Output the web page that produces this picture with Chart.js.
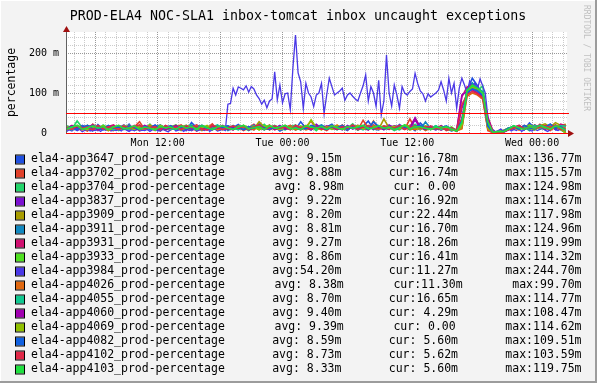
<!DOCTYPE html>
<html>
<head>
<meta charset="utf-8">
<script src="https://cdn.jsdelivr.net/npm/chart.js@4"></script>
<style>
  html, body { margin: 0; padding: 0; background: #f3f3f3; }
  canvas { display: block; }
</style>
</head>
<body>
<canvas id="chart" width="597" height="383"></canvas>
<script>
const chartTitle = "PROD-ELA4 NOC-SLA1 inbox-tomcat inbox uncaught exceptions";
const yTitle = "percentage";
const credit = "RRDTOOL / TOBI OETIKER";

// time axis in hours since Mon 00:00
const startHour = 3.25;
const stepHours = 0.5;      // most hosts: one sample per 30 min
const blueStepHours = 0.25; // app3984 read at a finer step
const xMin = 3.18;
const xMax = 51.36;
const yMax = 252.5;
const xTickHours = [12, 24, 36, 48];
const xTickLabels = ["Mon 12:00", "Tue 00:00", "Tue 12:00", "Wed 00:00"];
const yTickValues = [0, 100, 200];
const yTickLabels = ["0", "100 m", "200 m"];
const hrules = [0, 50];

const hosts = [
    "ela4-app3647_prod-percentage", "ela4-app3702_prod-percentage", "ela4-app3704_prod-percentage",
    "ela4-app3837_prod-percentage", "ela4-app3909_prod-percentage", "ela4-app3911_prod-percentage",
    "ela4-app3931_prod-percentage", "ela4-app3933_prod-percentage", "ela4-app3984_prod-percentage",
    "ela4-app4026_prod-percentage", "ela4-app4055_prod-percentage", "ela4-app4060_prod-percentage",
    "ela4-app4069_prod-percentage", "ela4-app4082_prod-percentage", "ela4-app4102_prod-percentage",
    "ela4-app4103_prod-percentage"
];
const colors = [
    "#2050e0", "#e0402a", "#22d46a", "#7a10d0", "#a89c00", "#1088c0", "#d01070", "#50e020",
    "#4a38e6", "#e06810", "#10c890", "#a000b0", "#90c000", "#1060e0", "#e02848", "#20e040"
];
const avgText = ["avg: 9.15m", "avg: 8.88m", "avg: 8.98m", "avg: 9.22m", "avg: 8.20m", "avg: 8.81m",
    "avg: 9.27m", "avg: 8.86m", "avg:54.20m", "avg: 8.38m", "avg: 8.70m", "avg: 9.40m",
    "avg: 9.39m", "avg: 8.59m", "avg: 8.73m", "avg: 8.33m"];
const curText = ["cur:16.78m", "cur:16.74m", "cur: 0.00", "cur:16.92m", "cur:22.44m", "cur:16.70m",
    "cur:18.26m", "cur:16.41m", "cur:11.27m", "cur:11.30m", "cur:16.65m", "cur: 4.29m",
    "cur: 0.00", "cur: 5.60m", "cur: 5.62m", "cur: 5.60m"];
const maxText = ["max:136.77m", "max:115.57m", "max:124.98m", "max:114.67m", "max:117.98m", "max:124.96m",
    "max:119.99m", "max:114.32m", "max:244.70m", "max:99.70m", "max:114.77m", "max:108.47m",
    "max:114.62m", "max:109.51m", "max:103.59m", "max:119.75m"];

// values in milli-percent, 30 min steps
const app3647 = [9,15,6,18,12,5,21,10,14,8, 16,9,22,6,12,18,8,13,5,15, 10,19,9,6,26,13,8,16,12,9, 18,6,13,21,10,15,8,23,12,9, 16,5,13,19,9,28,12,8,18,10, 15,22,9,13,6,19,12,16,30,10, 8,18,13,9,21,12,15,6,25,13, 9,16,8,12,5,9, 22,105,137,118,96,10, 2,1,6,13,9,18,8,25,12,16,10,20,9,15,17];
const app3702 = [13,8,18,10,5,22,12,16,9,6, 19,12,8,15,28,9,13,6,18,10, 8,15,20,9,13,5,16,12,23,8, 12,18,9,15,6,13,22,10,16,8, 13,9,19,12,18,8,15,30,10,13, 6,16,12,20,9,15,8,32,12,18, 10,13,19,8,15,9,35,12,16,6, 13,9,18,6,10,4, 38,98,115,107,90,6, 1,4,3,10,15,8,19,12,9,22,13,6,16,10,17];
const app3704 = [18,10,30,13,8,16,9,20,12,15, 6,13,19,9,15,10,22,8,12,18, 9,16,6,13,20,10,15,8,18,12, 15,8,19,10,13,6,16,12,22,9, 18,12,8,15,20,9,13,16,6,19, 10,15,8,18,12,23,9,13,16,8, 19,10,15,6,13,18,9,22,12,15, 8,18,10,13,6,10, 12,112,125,104,118,30, 2,0,4,8,18,10,15,6,20,12,9,16,13,8,0];
const app3837 = [8,13,9,19,10,15,6,12,18,9, 13,20,8,12,16,9,15,19,10,8, 18,12,9,15,6,13,19,10,16,9, 10,15,8,18,12,9,20,13,8,16, 12,19,9,15,8,13,18,10,22,12, 9,16,13,8,19,10,15,12,18,9, 15,8,20,12,13,18,9,34,10,15, 12,8,16,9,13,5, 62,100,114,109,95,14, 3,1,3,9,13,19,10,15,8,18,12,22,9,16,17];
const app3909 = [10,16,8,13,19,9,15,12,6,18, 9,13,18,8,15,10,20,12,16,8, 13,9,16,19,10,15,6,12,18,13, 8,16,12,9,19,13,10,28,15,9, 18,10,13,16,8,12,19,9,15,13, 16,9,12,18,10,15,8,13,19,12, 9,35,13,10,18,15,8,12,16,10, 15,9,13,8,12,5, 16,96,118,110,100,20, 1,3,7,12,16,9,13,20,10,18,23,15,26,19,22];
const app3911 = [15,9,13,18,8,12,16,10,19,9, 12,18,9,13,8,16,10,15,20,12, 16,8,13,10,18,9,15,12,8,19, 13,10,18,9,15,8,12,19,10,16, 9,15,12,18,13,8,16,10,15,20, 12,18,9,15,10,16,8,13,18,12, 16,12,9,18,15,10,19,13,8,28, 10,15,9,12,8,8, 26,110,125,112,104,16, 2,4,2,9,12,18,9,15,10,19,13,16,12,20,17];
const app3931 = [12,19,10,15,8,18,13,9,16,20, 10,15,8,19,12,9,16,13,6,18, 13,10,18,8,15,20,12,9,16,10, 19,12,8,16,13,9,18,15,10,20, 8,13,18,12,16,9,15,10,19,13, 9,18,12,15,8,19,10,16,13,20, 12,15,9,18,13,10,16,36,15,9, 18,12,8,15,10,6, 90,115,120,106,98,40, 4,2,4,10,16,12,18,9,20,13,15,19,10,22,18];
const app3933 = [16,10,15,9,19,13,8,18,12,15, 9,19,13,10,16,8,15,12,18,9, 15,20,10,13,8,18,12,16,9,15, 12,9,16,13,19,10,15,8,18,12, 15,10,19,9,13,18,12,16,8,15, 13,10,18,15,9,16,12,19,10,15, 18,9,13,16,10,20,15,12,18,8, 16,10,13,9,15,6, 14,105,114,100,92,22, 1,3,5,13,9,16,12,19,15,10,18,13,20,16,16];
// app3984 at 15 min steps
const app3984 = [4,8,5,10,6,9,3,7,11,5, 8,6,10,4,9,7,12,5,8,6, 9,5,11,7,4,8,6,10,5,7, 6,9,4,8,11,5,7,10,6,3, 8,12,5,7,9,4,10,6,8,11, 5,7,9,6,12,4,8,10,5,7, 9,6,
    72,74,112,95,115,112,108,118,102,116, 110,95,86,72,82,63,80,85,153,83, 120,75,98,100,58,162,245,150,128,62, 124,100,90,66,95,100,124,49,95,137,
    116,95,100,105,112,82,95,100,92,85, 80,100,118,145,80,116,100,67,132,45, 80,195,100,67,120,95,62,116,100,95, 104,110,149,124,105,98,80,98,90,95,
    100,107,128,107,80,137,100,124,62,112, 137,120,100,130,115,125,110,135,118,100, 40,
    5,8,3,6,10,4,7,12,5,9, 6,11,4,8,13,7,5,10,6,9, 12,7,4,9,14,8,6,10,13,11];
const app4026 = [9,15,12,8,18,10,13,16,6,12, 15,9,19,12,8,13,18,10,15,9, 12,16,8,15,10,19,9,13,18,8, 13,10,16,9,15,12,8,18,13,10, 16,9,13,19,10,15,8,12,18,9, 15,12,20,9,13,16,10,15,8,30, 10,18,13,9,15,12,19,8,13,16, 9,13,10,16,8,6, 10,92,100,95,85,10, 1,2,4,9,13,8,16,10,15,12,19,9,13,18,11];
const app4055 = [13,8,16,12,9,19,15,10,18,8, 16,12,9,15,19,10,13,8,18,12, 9,15,12,19,13,8,16,10,15,20, 10,18,13,8,15,12,19,9,16,13, 19,8,15,12,18,10,13,16,9,15, 12,19,10,15,9,18,13,8,16,12, 15,10,18,12,8,16,13,19,10,15, 12,18,9,15,10,5, 22,108,115,104,96,25, 2,1,4,12,18,10,15,9,19,13,16,20,12,18,17];
const app4060 = [10,18,13,9,15,20,8,16,12,13, 18,9,15,12,8,19,13,10,16,9, 13,19,10,15,9,16,12,8,18,13, 16,9,15,12,18,8,13,19,10,15, 10,16,12,9,19,13,15,8,18,12, 18,13,9,16,10,15,19,12,8,16, 13,9,18,15,10,16,12,38,13,9, 15,10,18,8,13,6, 95,104,108,100,92,35, 3,2,2,8,13,18,9,15,12,20,10,16,13,9,4];
const app4069 = [15,10,19,13,9,16,12,18,8,15, 10,16,13,9,18,12,15,8,19,13, 16,12,9,18,15,10,13,19,8,16, 12,15,9,18,13,10,16,8,15,19, 13,9,16,12,18,15,10,33,13,8, 16,12,18,9,15,13,19,10,12,18, 9,15,13,16,10,19,12,15,9,18, 13,10,16,12,9,6, 20,102,114,110,98,12, 2,1,4,10,15,9,18,13,8,16,12,19,15,10,0];
const app4082 = [12,16,9,15,19,10,13,8,18,12, 15,10,18,13,9,16,12,20,8,15, 18,9,13,16,10,15,19,12,9,16, 13,18,10,15,8,16,12,19,13,9, 15,12,18,9,16,13,10,19,15,12, 9,16,13,19,10,15,12,18,9,28, 16,12,15,9,18,13,10,16,19,12, 15,9,13,18,10,6, 30,100,110,106,94,18, 1,2,5,12,16,9,19,13,10,18,15,22,12,16,6];
const app4102 = [13,9,18,12,15,8,19,10,16,13, 9,18,12,15,20,10,13,16,8,19, 12,15,9,18,13,16,10,8,19,15, 9,13,18,12,16,10,15,20,9,13, 18,12,15,8,19,13,16,10,15,9, 13,18,10,16,12,20,9,15,18,13, 10,16,15,12,19,9,13,18,12,15, 16,10,13,9,12,6, 70,96,104,98,88,30, 2,1,3,9,13,19,10,16,12,15,18,13,20,10,6];
const app4103 = [10,15,19,9,13,18,12,16,8,15, 19,10,13,18,9,15,12,8,16,13, 15,9,18,12,16,10,19,13,9,15, 18,12,9,15,19,10,13,16,8,18, 12,15,19,10,13,9,18,15,12,16, 10,18,13,9,16,12,15,19,10,13, 18,12,15,9,13,20,10,16,15,12, 9,15,12,16,10,5, 26,106,120,112,100,28, 1,4,3,10,18,13,9,16,12,19,15,10,18,13,6];

const series = [app3647, app3702, app3704, app3837, app3909, app3911, app3931, app3933,
    app3984, app4026, app4055, app4060, app4069, app4082, app4102, app4103];
const blueIndex = 8;

const mono = "'DejaVu Sans Mono', monospace";

let datasets = series.map((values, i) => {
    let step = i === blueIndex ? blueStepHours : stepHours;
    return {
        label: hosts[i],
        data: values.map((v, k) => ({ x: startHour + k * step, y: v })),
        borderColor: colors[i],
        borderWidth: i === blueIndex ? 1.3 : 1.6,
        pointRadius: 0,
        tension: 0,
        fill: false,
        order: series.length - i
    };
});

// draws background, title, axis arrows, hrules and the legend table
const rrdLook = {
    id: "rrdLook",
    beforeDraw(chart) {
        let ctx = chart.ctx;
        let a = chart.chartArea;
        ctx.save();
        ctx.fillStyle = "#f3f3f3";
        ctx.fillRect(0, 0, chart.width, chart.height);
        ctx.fillStyle = "#ffffff";
        ctx.fillRect(a.left, a.top, a.right - a.left, a.bottom - a.top);
        ctx.restore();
    },
    afterDatasetsDraw(chart) {
        let ctx = chart.ctx;
        let a = chart.chartArea;
        let y = chart.scales.y;
        ctx.save();
        ctx.setLineDash([]);
        // left axis
        ctx.fillStyle = "#606060";
        ctx.fillRect(a.left, a.top - 3, 1, a.bottom - a.top + 3);
        // horizontal rules
        ctx.fillStyle = "#ff0000";
        hrules.forEach(v => {
            let py = Math.round(y.getPixelForValue(v));
            ctx.fillRect(a.left, py, a.right - a.left + 2, 1);
        });
        // arrows
        ctx.fillStyle = "#a01010";
        ctx.beginPath();
        ctx.moveTo(a.left + 0.5, a.top - 6);
        ctx.lineTo(a.left - 3, a.top);
        ctx.lineTo(a.left + 4, a.top);
        ctx.closePath();
        ctx.fill();
        let by = Math.round(y.getPixelForValue(0)) + 0.5;
        ctx.beginPath();
        ctx.moveTo(a.right + 7, by);
        ctx.lineTo(a.right + 1, by - 3.5);
        ctx.lineTo(a.right + 1, by + 3.5);
        ctx.closePath();
        ctx.fill();
        ctx.restore();
    },
    afterDraw(chart) {
        let ctx = chart.ctx;
        let a = chart.chartArea;
        ctx.save();
        // frame
        ctx.fillStyle = "#ffffff";
        ctx.fillRect(0, 0, chart.width, 1);
        ctx.fillRect(0, 0, 1, chart.height);
        ctx.fillStyle = "#9c9c9c";
        ctx.fillRect(0, chart.height - 2, chart.width, 2);
        ctx.fillRect(chart.width - 2, 0, 2, chart.height);

        // title
        ctx.fillStyle = "#000000";
        ctx.font = "13.3px " + mono;
        ctx.textAlign = "center";
        ctx.textBaseline = "alphabetic";
        ctx.fillText(chartTitle, 298, 20);

        // y title
        ctx.save();
        ctx.translate(12.5, (a.top + a.bottom) / 2);
        ctx.rotate(-Math.PI / 2);
        ctx.font = "11.5px " + mono;
        ctx.textBaseline = "middle";
        ctx.fillText(yTitle, 0, 0);
        ctx.restore();

        // credit on the right edge
        ctx.save();
        ctx.translate(586.5, 5);
        ctx.rotate(Math.PI / 2);
        ctx.font = "8px " + mono;
        ctx.fillStyle = "#c0c0c0";
        ctx.textAlign = "left";
        ctx.textBaseline = "middle";
        ctx.fillText(credit, 0, 0);
        ctx.restore();

        // legend rows, justified like rrdtool's \j
        ctx.font = "11.5px " + mono;
        ctx.textAlign = "left";
        ctx.textBaseline = "middle";
        hosts.forEach((name, i) => {
            let ry = 159.5 + i * 14;
            ctx.fillStyle = colors[i];
            ctx.fillRect(16, ry - 4, 8, 8);
            ctx.strokeStyle = "#000000";
            ctx.lineWidth = 1;
            ctx.strokeRect(15.5, ry - 4.5, 9, 9);
            let parts = [name, avgText[i], curText[i], maxText[i]];
            let widths = parts.map(p => ctx.measureText(p).width);
            let total = widths.reduce((s, w) => s + w, 0);
            let gap = (581.5 - 31 - total) / 3;
            let x = 31;
            ctx.fillStyle = "#000000";
            parts.forEach((p, k) => {
                ctx.fillText(p, x, ry);
                x += widths[k] + gap;
            });
        });
        ctx.restore();
    }
};

new Chart(document.getElementById("chart"), {
    type: "line",
    data: { datasets: datasets },
    options: {
        responsive: false,
        animation: false,
        devicePixelRatio: 1,
        layout: { padding: { top: 32, right: 30, left: 0, bottom: 0 } },
        plugins: { legend: { display: false }, tooltip: { enabled: false }, title: { display: false } },
        scales: {
            x: {
                type: "linear",
                min: xMin,
                max: xMax,
                afterBuildTicks: scale => {
                    let t = [];
                    for (let h = Math.ceil(xMin); h <= xMax; h++) t.push({ value: h });
                    scale.ticks = t;
                },
                afterFit: scale => { scale.height = 250; },
                grid: {
                    drawTicks: false,
                    color: c => (c.tick && c.tick.value % 6 === 0) ? "#999999" : "#cccccc"
                },
                border: { display: false, dash: [1, 1] },
                ticks: {
                    autoSkip: false,
                    maxRotation: 0,
                    padding: 4,
                    color: "#000000",
                    font: { family: mono, size: 10 },
                    callback: v => {
                        let k = xTickHours.indexOf(v);
                        return k >= 0 ? xTickLabels[k] : "";
                    }
                }
            },
            y: {
                min: 0,
                max: yMax,
                afterBuildTicks: scale => {
                    let t = [];
                    for (let v = 0; v <= yMax; v += 20) t.push({ value: v });
                    scale.ticks = t;
                },
                afterFit: scale => { scale.width = 66; },
                grid: {
                    drawTicks: false,
                    color: c => (c.tick && c.tick.value % 100 === 0) ? "#999999" : "#cccccc"
                },
                border: { display: false, dash: [1, 1] },
                ticks: {
                    autoSkip: false,
                    padding: 7,
                    color: "#000000",
                    font: { family: mono, size: 10 },
                    callback: v => {
                        let k = yTickValues.indexOf(v);
                        if (k < 0) return "";
                        return yTickLabels[k].indexOf(" m") < 0 ? yTickLabels[k] + "  " : yTickLabels[k];
                    }
                }
            }
        }
    },
    plugins: [rrdLook]
});
</script>
</body>
</html>
